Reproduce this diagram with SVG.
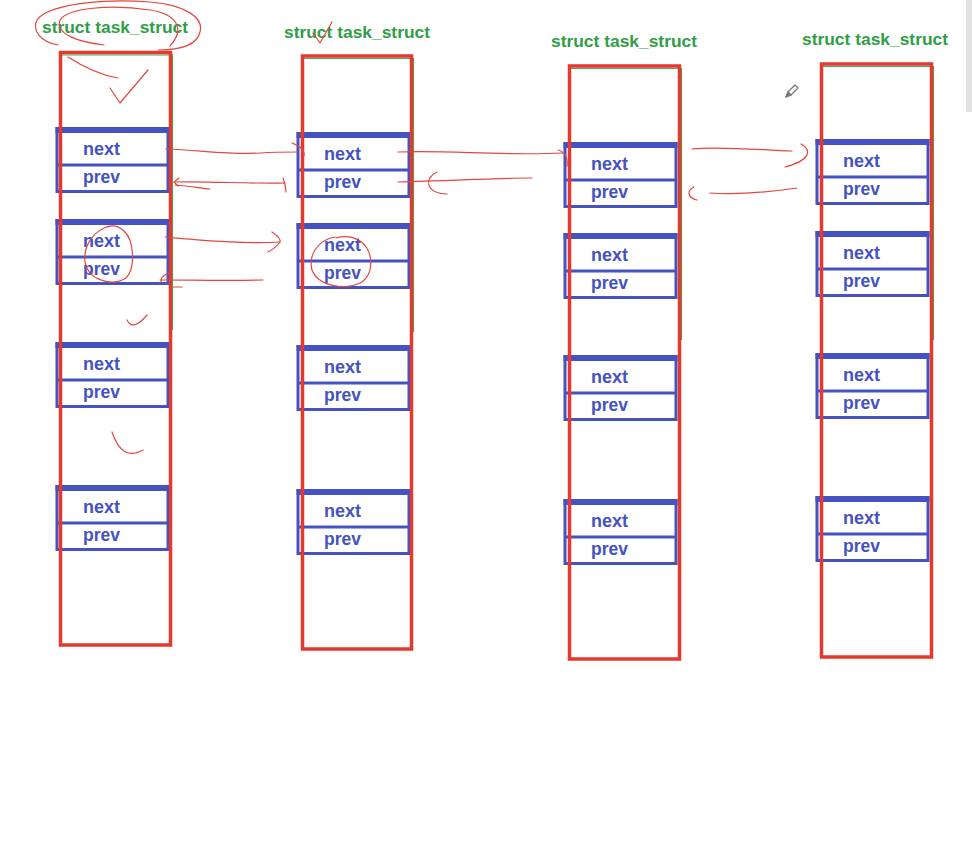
<svg xmlns="http://www.w3.org/2000/svg" width="972" height="864" viewBox="0 0 972 864">
<style>
.title{font-family:"Liberation Sans",Arial,sans-serif;font-weight:bold;font-size:17px;fill:#2f9e47}
.lbl{font-family:"Liberation Sans",Arial,sans-serif;font-weight:bold;font-size:18px;fill:#4452c2}
.box{fill:#fff;stroke:#4452c2;stroke-width:3}
.bar{fill:#4452c2}
.frame{fill:none;stroke:#e3392f;stroke-width:3.5}
.gline{fill:none;stroke:#3fae55;stroke-width:1.2}
.ink{fill:none;stroke:#e2473f;stroke-width:1.2;stroke-linecap:round;stroke-linejoin:round}
</style>
<defs>
<g id="blk">
<rect class="box" x="0" y="1.5" width="111" height="63"/>
<rect class="bar" x="-1.5" y="0" width="114" height="6"/>
<rect class="bar" x="0" y="36.5" width="111" height="3"/>
<text class="lbl" x="26" y="28" textLength="37" lengthAdjust="spacingAndGlyphs">next</text>
<text class="lbl" x="26" y="56" textLength="37" lengthAdjust="spacingAndGlyphs">prev</text>
</g>
</defs>
<rect width="972" height="864" fill="#fff"/>
<rect x="966" y="0" width="6" height="112" fill="#e2e2e2"/>

<g id="task1">
<text class="title" x="42" y="33" textLength="146" lengthAdjust="spacingAndGlyphs">struct task_struct</text>
<use href="#blk" x="57" y="127"/>
<use href="#blk" x="57" y="219"/>
<use href="#blk" x="57" y="342"/>
<use href="#blk" x="57" y="485"/>
<polyline class="gline" points="62,55 172.5,55 172.5,330"/>
<rect class="frame" x="60.5" y="52.5" width="110" height="592.5"/>
</g>

<g id="task2">
<text class="title" x="284" y="38" textLength="146" lengthAdjust="spacingAndGlyphs">struct task_struct</text>
<use href="#blk" x="298" y="132"/>
<use href="#blk" x="298" y="223"/>
<use href="#blk" x="298" y="345"/>
<use href="#blk" x="298" y="489"/>
<polyline class="gline" points="304,58.5 413.5,58.5 413.5,332"/>
<rect class="frame" x="302.5" y="56" width="109" height="593"/>
</g>

<g id="task3">
<text class="title" x="551" y="47" textLength="146" lengthAdjust="spacingAndGlyphs">struct task_struct</text>
<use href="#blk" x="565" y="142"/>
<use href="#blk" x="565" y="233"/>
<use href="#blk" x="565" y="355"/>
<use href="#blk" x="565" y="499"/>
<polyline class="gline" points="571,68.5 681.5,68.5 681.5,340"/>
<rect class="frame" x="569.5" y="66" width="110" height="593"/>
</g>

<g id="task4">
<text class="title" x="802" y="45" textLength="146" lengthAdjust="spacingAndGlyphs">struct task_struct</text>
<use href="#blk" x="817" y="139"/>
<use href="#blk" x="817" y="231"/>
<use href="#blk" x="817" y="353"/>
<use href="#blk" x="817" y="496"/>
<polyline class="gline" points="823,66.5 933.5,66.5 933.5,340"/>
<rect class="frame" x="821.5" y="64" width="110" height="593"/>
</g>

<g id="connectors" class="ink">
<path d="M166,149 C200,150 230,155 260,153 C276,152 286,152 297,152"/>
<path d="M292,143 C300,146 305,150 304,156"/>
<path d="M175,182 C210,181 250,184 285,183"/>
<path d="M179,178 L174,182 L178,186"/>
<path d="M175,185 C190,186 200,188 210,189"/>
<path d="M283,178 C285,183 286,188 286,192"/>
<path d="M165,237 C200,240 240,244 280,242"/>
<path d="M272,232 C278,236 281,239 280,242 C277,246 272,250 268,252"/>
<path d="M160,280 C190,280 230,281 263,280"/>
<path d="M169,273 C164,275 160,278 161,282"/>
<path d="M173,287 L182,287"/>
<path d="M398,152 C450,150 500,156 563,153"/>
<path d="M558,150 C565,152 568,158 567,166"/>
<path d="M532,178 C490,178 450,181 398,182"/>
<path d="M437,172 C424,178 425,193 447,194"/>
<path d="M692,149 C720,146 760,150 792,151"/>
<path d="M801,144 C812,150 811,160 785,167"/>
<path d="M797,188 C770,192 740,195 710,193"/>
<path d="M694,187 C686,191 688,198 697,200"/>
</g>

<g id="marks" class="ink">
<path d="M58,45 C40,42 32,30 37,20 C47,5 100,-2 150,2 C186,5 204,18 200,32 C197,45 180,50 158,50"/>
<path d="M104,45 C78,42 55,34 60,20 C68,8 110,4 150,10 C176,14 186,28 170,46"/>
<path d="M68,57 C85,68 100,75 118,78"/>
<path d="M110,88 L120,103 L148,70"/>
<path d="M313,33 L320,43 L332,22"/>
<path d="M112,226 C95,228 83,245 85,262 C88,280 112,287 126,278 C136,268 134,240 124,231 C119,226 112,225 106,227"/>
<path d="M335,237 C318,240 308,255 312,270 C318,286 345,291 362,282 C375,272 373,250 360,241 C352,236 343,236 336,238"/>
<path d="M127,320 Q133,332 147,315"/>
<path d="M112,432 Q122,462 143,450"/>
</g>

<g id="pencil" fill="#fff" stroke="#777" stroke-width="1.3" stroke-linejoin="round">
<path d="M786,97 L788,92 L795,85 L798,88 L791,95 Z"/>
<path d="M786,97 L788,92 L791,95 Z" fill="#777"/>
</g>
</svg>
